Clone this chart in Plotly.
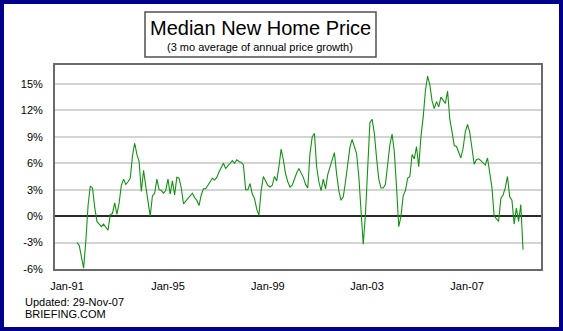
import plotly.graph_objects as go

# ---------------- data ----------------
start_month = "Jan-91"
growth = [
    -3.0, -3.3, -4.6, -5.9, -2.8, 1.2, 3.4, 3.2, 1.0, -0.6,
    -0.9, -1.2, -0.9, -1.3, -1.6, 0.2, 0.3, 1.5, 0.2, 1.5,
    3.5, 4.2, 3.6, 3.9, 4.3, 6.8, 8.3, 7.0, 6.2, 2.8,
    5.2, 3.4, 1.8, 0.0, 2.3, 2.6, 4.2, 3.0, 2.9, 2.6,
    2.9, 4.2, 2.5, 4.0, 2.4, 4.4, 4.3, 3.2, 1.4, 1.7,
    1.9, 2.2, 2.6, 2.1, 1.8, 1.2, 2.4, 3.1, 3.1, 3.5,
    3.9, 4.3, 4.1, 4.4, 5.0, 5.5, 6.0, 5.4, 5.7, 6.0,
    6.3, 6.0, 6.4, 6.2, 6.1, 5.8, 3.0, 3.0, 3.7, 2.5,
    2.0, 0.8, 0.1, 2.9, 4.5, 4.0, 3.5, 3.3, 3.5, 4.5,
    4.0, 5.6, 7.6, 6.4, 4.8, 3.9, 3.3, 3.5, 4.3, 4.9,
    5.4, 4.9, 4.4, 3.6, 3.2, 7.1, 9.0, 9.4, 5.6, 3.9,
    2.9, 4.2, 3.1, 4.7, 5.5, 6.5, 7.2, 4.8, 2.9, 1.8,
    2.2, 3.9, 6.0, 7.8, 8.7, 7.9, 7.1, 4.5, 0.5, -3.2,
    0.2, 5.5, 10.6, 11.0, 9.4, 6.6, 4.2, 3.2, 3.2, 3.6,
    5.9, 8.1, 9.3, 7.3, 3.3, -1.2, 0.0, 2.3, 2.9, 4.3,
    4.5, 7.0, 6.5, 7.9, 5.6, 9.0, 11.2, 14.2, 15.9, 14.9,
    13.1, 12.2, 13.0, 12.4, 13.5, 13.2, 12.8, 14.2, 11.0, 9.6,
    8.0, 7.9, 7.3, 6.6, 7.7, 9.6, 10.4, 9.5, 7.7, 5.9,
    6.4, 6.5, 6.3, 6.1, 5.8, 6.6, 5.0, 3.2, 0.0, -0.3,
    -0.6, 2.0, 2.4, 3.2, 4.5, 2.2, 1.8, -0.9, 0.9, -0.6,
    1.3, -3.8,
]
month_index = list(range(len(growth)))
x_tick_labels = ["Jan-91", "Jan-95", "Jan-99", "Jan-03", "Jan-07"]
y_tick_values = [-6, -3, 0, 3, 6, 9, 12, 15]
title_text = "Median New Home Price"
subtitle_text = "(3 mo average of annual price growth)"
footer_lines = ["Updated: 29-Nov-07", "BRIEFING.COM"]

# ---------------- layout geometry (pixels) ----------------
W, H = 563, 331
L, R, T, B = 55, 22, 65, 62
PW, PH = W - L - R, H - T - B


def px(xp):
    return (xp - L) / PW


def py(yp):
    return (H - B - yp) / PH


# x tick label positions (in month-index units, matching the original label placement)
x_tick_positions = [-4.5, 41.0, 86.0, 130.7, 175.8]

FONT = "Liberation Sans, Arial, sans-serif"

fig = go.Figure()
fig.add_trace(go.Scatter(
    x=month_index, y=growth, mode="lines",
    line=dict(color="#139313", width=1.1),
    hoverinfo="skip", showlegend=False,
))

fig.update_layout(
    width=W, height=H,
    margin=dict(l=L, r=R, t=T, b=B, pad=0),
    paper_bgcolor="white", plot_bgcolor="white",
    font=dict(family=FONT, size=11, color="black"),
    showlegend=False,
    xaxis=dict(
        range=[-9.9, 209.1], tickvals=x_tick_positions, ticktext=x_tick_labels,
        showgrid=False, zeroline=False, ticks="", ticklabelstandoff=6,
        showline=True, mirror=True, linecolor="#6a6a6a", linewidth=2,
        tickfont=dict(size=11, family=FONT),
    ),
    yaxis=dict(
        range=[-6, 17.15], tickvals=y_tick_values,
        ticktext=[f"{v}%" for v in y_tick_values],
        showgrid=True, gridcolor="#d4d4d4", gridwidth=2,
        zeroline=True, zerolinecolor="#2a2a2a", zerolinewidth=1.5,
        ticks="", ticklabelstandoff=8,
        showline=True, mirror=True, linecolor="#6a6a6a", linewidth=2,
        tickfont=dict(size=11, family=FONT),
    ),
)

shapes = [
    # outer navy frame
    dict(type="rect", xref="paper", yref="paper",
         x0=px(2), x1=px(561), y0=py(2), y1=py(329),
         line=dict(color="#00008a", width=4), layer="above"),
    # title box
    dict(type="rect", xref="paper", yref="paper",
         x0=px(145), x1=px(376), y0=py(12), y1=py(57),
         line=dict(color="#505050", width=1.5), fillcolor="white", layer="above"),
]
fig.update_layout(shapes=shapes)

annotations = [
    dict(text=title_text, x=px(260.5), y=py(28), xref="paper", yref="paper",
         xanchor="center", yanchor="middle", showarrow=False,
         font=dict(size=20, family=FONT, color="black")),
    dict(text=subtitle_text, x=px(260), y=py(46.5), xref="paper", yref="paper",
         xanchor="center", yanchor="middle", showarrow=False,
         font=dict(size=11, family=FONT, color="black")),
]
for i, line in enumerate(footer_lines):
    annotations.append(dict(
        text=line, x=px(23), y=py(302 + 11.5 * i), xref="paper", yref="paper",
        xanchor="left", yanchor="middle", showarrow=False,
        font=dict(size=11, family=FONT, color="black")))
fig.update_layout(annotations=annotations)

fig.write_html("out.html")
